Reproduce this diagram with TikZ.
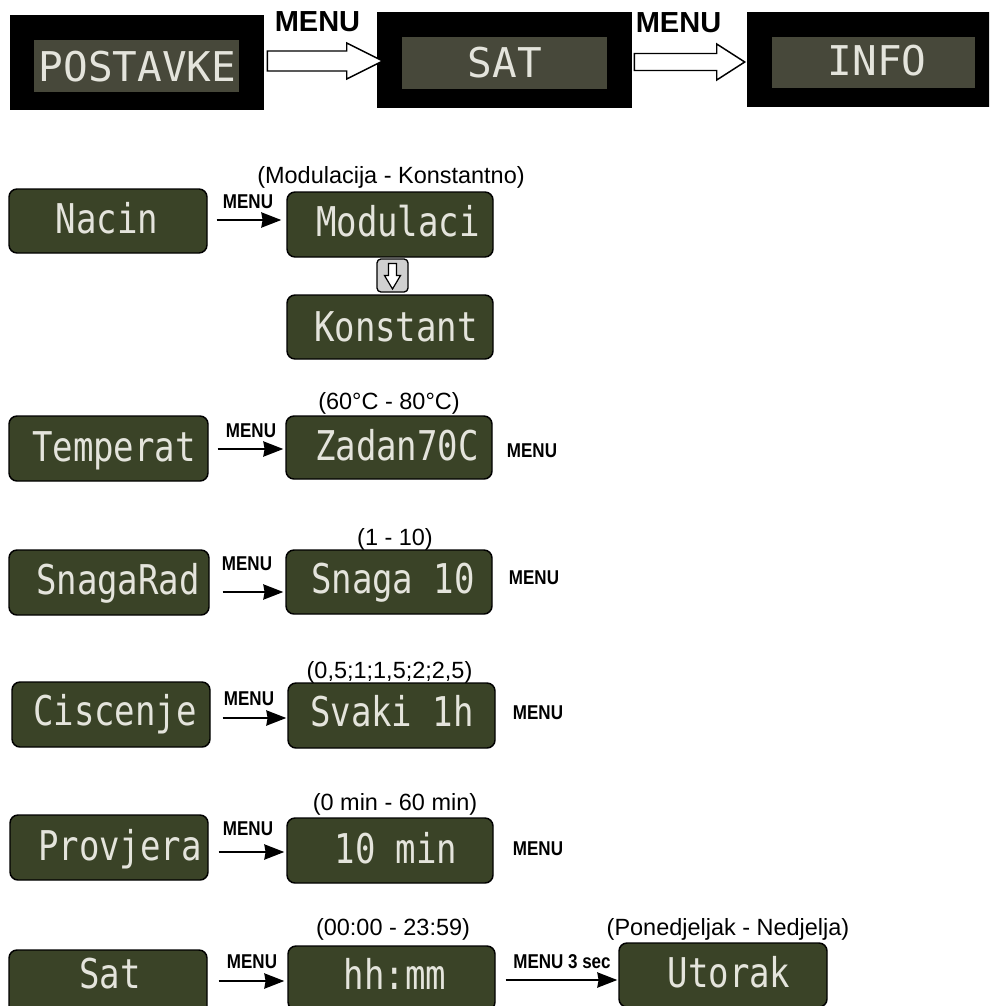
\documentclass[tikz,border=0pt]{standalone}
\usepackage{fontspec}
\setmainfont{Liberation Sans}
\newfontfamily\lcdnarrow[FakeStretch=0.83]{DejaVu Sans Mono}
\newfontfamily\lcdwide{DejaVu Sans Mono}
\newfontfamily\menufont[FakeStretch=0.85]{Liberation Sans}
\usetikzlibrary{arrows.meta,fit,calc}
\definecolor{lcdgreen}{HTML}{3A4327}
\definecolor{lcdgray}{HTML}{47483A}
\definecolor{lcdtext}{HTML}{E4E4DC}
\definecolor{icongray}{HTML}{D0D0D0}
\begin{document}
\begin{tikzpicture}[x=0.75pt,y=-0.75pt,
  gbox/.style={draw=black, line width=1.1pt, fill=lcdgreen, rounded corners=6pt, inner sep=0pt},
  obox/.style={fill=black, inner sep=0pt},
  ibox/.style={fill=lcdgray, inner sep=0pt},
  lcdt/.style={anchor=base, inner sep=0pt, text=lcdtext, font=\lcdnarrow\fontsize{30.75pt}{31pt}\selectfont},
  topt/.style={anchor=base, inner sep=0pt, text=lcdtext, font=\lcdwide\fontsize{30.75pt}{31pt}\selectfont},
  menus/.style={anchor=base, inner sep=0pt, font=\menufont\bfseries\fontsize{15pt}{16pt}\selectfont},
  menub/.style={anchor=base, inner sep=0pt, font=\bfseries\fontsize{21.75pt}{22pt}\selectfont},
  rng/.style={anchor=base, inner sep=0pt, font=\fontsize{17.6pt}{18pt}\selectfont},
  arr/.style={line width=1.1pt, -{Stealth[length=15pt,width=11.5pt,inset=1pt]}},
  hollow/.style={draw=black, fill=white, line width=1.1pt, line join=miter}
]
\useasboundingbox (0,0) rectangle (989,1006);
\clip (0,0) rectangle (989,1006);

% ---------- top row ----------
\node[obox, fit={(10,15)(264,110)}] (postO) {};
\node[ibox, fit={(34,40)(239,92)}] (postI) {};
\node[topt] (postT) at (137.5,82) {POSTAVKE};

\node[obox, fit={(377,12)(632,108)}] (satO) {};
\node[ibox, fit={(402,37)(607,89)}] (satI) {};
\node[topt] (satT) at (505,78) {SAT};

\node[obox, fit={(747,12)(990,107)}] (infoO) {};
\node[ibox, fit={(772,37)(975,88)}] (infoI) {};
\node[topt] (infoT) at (877,75) {INFO};

\coordinate (a1) at ($(postO.east)+(3,-1.5)$);
\coordinate (a1t) at ($(satO.west |- a1)+(6,0)$);
\draw[hollow] ($(a1)+(0,-10)$) -- ($(a1t)+(-36,-10)$) -- ($(a1t)+(-36,-18)$) -- (a1t)
  -- ($(a1t)+(-36,18)$) -- ($(a1t)+(-36,10)$) -- ($(a1)+(0,10)$) -- cycle;
\node[menub] (m1) at (317.5,32) {MENU};

\coordinate (a2) at ($(satO.east)+(2,2)$);
\coordinate (a2t) at ($(infoO.west |- a2)+(-2,0)$);
\draw[hollow] ($(a2)+(0,-8.5)$) -- ($(a2t)+(-28,-8.5)$) -- ($(a2t)+(-28,-18)$) -- (a2t)
  -- ($(a2t)+(-28,18)$) -- ($(a2t)+(-28,8.5)$) -- ($(a2)+(0,8.5)$) -- cycle;
\node[menub] (m2) at (678.5,33) {MENU};

% ---------- Nacin ----------
\node[gbox, fit={(9,189)(207,253)}] (nacin) {};
\node[lcdt] at (107,233) {Nacin};
\node[gbox, fit={(287,192)(493,257)}] (modul) {};
\node[lcdt] at (398,236) {Modulaci};
\node[gbox, fit={(287,295)(493,359)}] (konst) {};
\node[lcdt] at (396,341) {Konstant};
\node[rng] at (391,183) {(Modulacija - Konstantno)};
\coordinate (s1) at ($(nacin.east)+(9,-1)$);
\draw[arr] (s1) -- ($(modul.west |- s1)+(-5,0)$);
\node[menus] at (248,208) {MENU};
\node[draw, fill=icongray, rounded corners=3pt, line width=1pt, minimum width=23.25pt,
  minimum height=24.75pt, inner sep=0pt] (icon) at (392.5,275.5) {};
\begin{scope}[shift={(icon.center)}]
\draw[hollow, line width=0.9pt] (-4,-12) -- (4,-12) -- (4,0) -- (8,0) -- (0,13.5)
  -- (-8,0) -- (-4,0) -- cycle;
\end{scope}

% ---------- Temperat ----------
\node[gbox, fit={(9,416)(208,481)}] (temp) {};
\node[lcdt] at (114,461) {Temperat};
\node[gbox, fit={(286,416)(492,479)}] (zadan) {};
\node[lcdt] at (397,460) {Zadan70C};
\node[rng] at (389,409) {(60°C - 80°C)};
\coordinate (s2) at ($(temp.east)+(9,0.5)$);
\draw[arr] (s2) -- ($(zadan.west |- s2)+(-2,0)$);
\node[menus] at (251,437) {MENU};
\node[menus] at (532,457) {MENU};

% ---------- SnagaRad ----------
\node[gbox, fit={(9,550)(209,615)}] (snagarad) {};
\node[lcdt] at (118,594) {SnagaRad};
\node[gbox, fit={(286,550)(492,614)}] (snaga) {};
\node[lcdt] at (393,593) {Snaga 10};
\node[rng] at (395,545) {(1 - 10)};
\coordinate (s3) at ($(snagarad.east)+(13,9.5)$);
\draw[arr] (s3) -- ($(snaga.west |- s3)+(-2,0)$);
\node[menus] at (247,570) {MENU};
\node[menus] at (534,584) {MENU};

% ---------- Ciscenje ----------
\node[gbox, fit={(12,682)(210,747)}] (cisc) {};
\node[lcdt] at (115,725) {Ciscenje};
\node[gbox, fit={(288,683)(495,748)}] (svaki) {};
\node[lcdt] at (392,726) {Svaki 1h};
\node[rng] at (389.5,678) {(0,5;1;1,5;2;2,5)};
\coordinate (s4) at ($(cisc.east)+(12,3.5)$);
\draw[arr] (s4) -- ($(svaki.west |- s4)+(-1,0)$);
\node[menus] at (249,705) {MENU};
\node[menus] at (538,719) {MENU};

% ---------- Provjera ----------
\node[gbox, fit={(10,815)(208,880)}] (prov) {};
\node[lcdt] at (120,860) {Provjera};
\node[gbox, fit={(287,818)(493,883)}] (minb) {};
\node[lcdt] at (396,863) {10 min};
\node[rng] at (395,810) {(0 min - 60 min)};
\coordinate (s5) at ($(prov.east)+(10,4.5)$);
\draw[arr] (s5) -- ($(minb.west |- s5)+(-2,0)$);
\node[menus] at (248,835) {MENU};
\node[menus] at (538,855) {MENU};

% ---------- Sat ----------
\node[gbox, fit={(9,950)(207,1014)}] (sat) {};
\node[lcdt] at (110,988) {Sat};
\node[gbox, fit={(288,946)(495,1010)}] (hhmm) {};
\node[lcdt] at (395,989) {hh:mm};
\node[rng] at (393,935) {(00:00 - 23:59)};
\coordinate (s6) at ($(sat.east)+(11,-1)$);
\draw[arr] (s6) -- ($(hhmm.west |- s6)+(-3,0)$);
\node[menus] at (252,968) {MENU};
\node[gbox, fit={(619,943)(827,1007)}] (utorak) {};
\node[lcdt] at (729,987) {Utorak};
\node[rng] at (728,935) {(Ponedjeljak - Nedjelja)};
\coordinate (s7) at ($(hhmm.east)+(10,2)$);
\draw[arr] (s7) -- ($(utorak.west |- s7)+(-1,0)$);
\node[menus] at (562,968) {MENU 3 sec};
\end{tikzpicture}
\end{document}
